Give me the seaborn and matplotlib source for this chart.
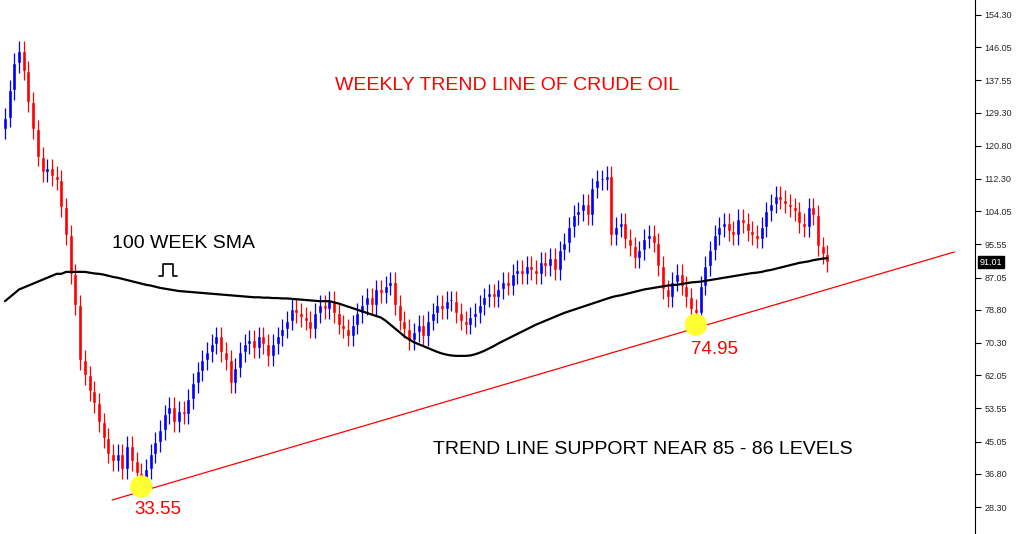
import numpy as np
import matplotlib
matplotlib.use("Agg")
import matplotlib.pyplot as plt
from matplotlib.lines import Line2D
import seaborn as sns

# weekly closes
closes = [128, 135, 142, 145, 140, 132,
          125, 118, 114, 115, 113, 112, 105, 98,
          88, 80, 66, 62, 58, 55,
          50, 46, 42, 40, 42, 38, 44, 40, 37,
          35, 38, 42, 45, 48,
          52, 54, 50, 53, 52, 56, 60, 63, 66, 68,
          70, 72, 68, 66,
          60, 64, 68, 70,
          71, 69, 72, 70, 67, 70, 72, 74, 76,
          79, 78, 77, 76, 74, 78, 80, 79,
          81, 78, 75, 74,
          72, 75, 78, 80, 82, 80, 84, 83,
          85, 86, 80, 76, 74,
          71, 73, 75, 72, 76, 78, 80, 79, 81,
          81, 78, 76,
          75, 77, 78, 80, 82, 83, 82,
          84, 86, 85, 88, 89, 88, 90, 89, 88,
          91, 90, 92, 89, 94,
          96, 100, 103,
          104, 106, 103, 110, 112,
          112, 113,
          98, 100, 101, 97, 95,
          92, 94, 97,
          98, 96, 90,
          84, 82, 86, 88, 85, 82,
          79, 78,
          85, 90, 94, 98,
          100, 101, 99,
          98, 102, 101, 99, 98, 97,
          100, 104, 106,
          108, 107, 106, 105,
          104, 101, 100, 105,
          103, 95, 93, 91]

sma100 = [81, 82, 83, 84, 84.5, 85, 85.5, 86, 86.5, 87, 87.5, 88, 88, 88.5,
          88.5, 88.5, 88.5, 88.5, 88.3, 88.1,
          88, 87.8, 87.5, 87.2, 87, 86.7, 86.4, 86.1, 85.8, 85.5, 85.2, 85, 84.7, 84.4, 84.2,
          84, 83.8, 83.6, 83.5, 83.4, 83.3, 83.2, 83.1, 83, 82.9, 82.8, 82.7, 82.6, 82.5, 82.4, 82.3, 82.2,
          82.1, 82, 82, 81.9, 81.9, 81.8, 81.8, 81.7, 81.7, 81.6, 81.5, 81.4, 81.3, 81.2, 81.1, 81, 81,
          81, 80.7, 80.4, 80, 79.6, 79.2, 78.8, 78.4, 78, 77.6, 77.2,
          76.8, 76, 75, 74, 73, 72, 71.2, 70.5,
          70, 69.5, 69, 68.5, 68, 67.6, 67.3, 67.1, 67, 67, 67,
          67.1, 67.4, 67.8, 68.3, 68.9, 69.5, 70.2, 70.8,
          71.4, 72, 72.6, 73.2, 73.8, 74.4, 75, 75.5, 76, 76.5, 77,
          77.5, 78, 78.4, 78.8, 79.2, 79.6, 80, 80.4, 80.8, 81.2, 81.6, 82, 82.3,
          82.5, 82.8, 83.1, 83.4, 83.7, 84, 84.2, 84.4,
          84.6, 84.8, 85, 85.1, 85.2, 85.4, 85.6, 85.8, 85.9,
          86, 86.2, 86.4, 86.6, 86.8, 87, 87.2, 87.4, 87.6, 87.8, 88, 88.2, 88.3,
          88.5, 88.8, 89, 89.3, 89.6, 89.9, 90.2, 90.5, 90.8, 91, 91.2, 91.5, 91.7, 91.9, 92]

yticks = [154.30, 146.05, 137.55, 129.30, 120.80, 112.30, 104.05, 95.55,
          87.05, 78.80, 70.30, 62.05, 53.55, 45.05, 36.80, 28.30]
trend_x = [22.8, 202]
trend_y = [30.1, 93.6]
lows_marked = [(29, 33.55), (147, 74.95)]
last_price = 91.01

sns.set_style("white")
plt.rcParams["font.family"] = ["Liberation Sans", "DejaVu Sans"]

fig = plt.figure(figsize=(10.18, 5.34), dpi=100)
ax = fig.add_axes([0, 0, 975 / 1018, 1])

c = np.array(closes, dtype=float)
o = np.concatenate([[c[0] - 3], c[:-1]])
idx = np.arange(len(c))
up = c >= o
cols = np.where(up, "#0000ff", "#ff0000")
hi = np.maximum(o, c) + 2.5
lo = np.minimum(o, c) - 2.5
ax.vlines(idx, lo, hi, colors=cols, linewidth=0.9)
ax.bar(idx, np.maximum(np.abs(c - o), 0.5), bottom=np.minimum(o, c), width=0.85, color=cols)

sns.lineplot(x=idx, y=sma100, ax=ax, color="black", linewidth=1.6)
ax.plot(trend_x, trend_y, color="#ff0000", linewidth=0.9)
for xi, yi in lows_marked:
    ax.scatter(xi, yi, s=260, color="#ffff33", zorder=5, edgecolors="none")

ax.set_xlim(-1.06, 206.4)
ax.set_ylim(21.4, 158.1)
ax.set_xticks([])
ax.yaxis.tick_right()
ax.set_yticks(yticks)
ax.set_yticklabels([f"{v:.2f}" for v in yticks], fontsize=6.5)
ax.tick_params(axis="y", length=4, direction="out", pad=3, color="black")
for s in ["top", "left", "bottom"]:
    ax.spines[s].set_visible(False)
ax.spines["right"].set_color("black")
ax.text(1.005, (last_price - 21.4) / (158.1 - 21.4), f"{last_price:.2f}", transform=ax.transAxes,
        fontsize=6.5, color="white", va="center", ha="left",
        bbox=dict(boxstyle="square,pad=0.2", fc="black", ec="black"), clip_on=False)

def ftext(x, y, s, **kw):
    fig.text(x / 1018, 1 - y / 534, s, ha="center", va="center", **kw)

ftext(507, 86, "WEEKLY TREND LINE OF CRUDE OIL", color="#ff0000", fontsize=14)
ftext(183, 243, "100 WEEK SMA", color="black", fontsize=14)
ftext(643, 449, "TREND LINE SUPPORT NEAR 85 - 86 LEVELS", color="black", fontsize=14)
ftext(158, 510, "33.55", color="#ff0000", fontsize=13.5)
ftext(714, 350, "74.95", color="#ff0000", fontsize=13.5)

# small pulse-shaped pointer under the SMA label
px = np.array([159, 163, 163, 173, 173, 177]) / 1018
py = 1 - np.array([276, 276, 264, 264, 276, 276]) / 534
fig.add_artist(Line2D(px, py, color="black", linewidth=1.2))

fig.savefig("out.png", dpi=100)
